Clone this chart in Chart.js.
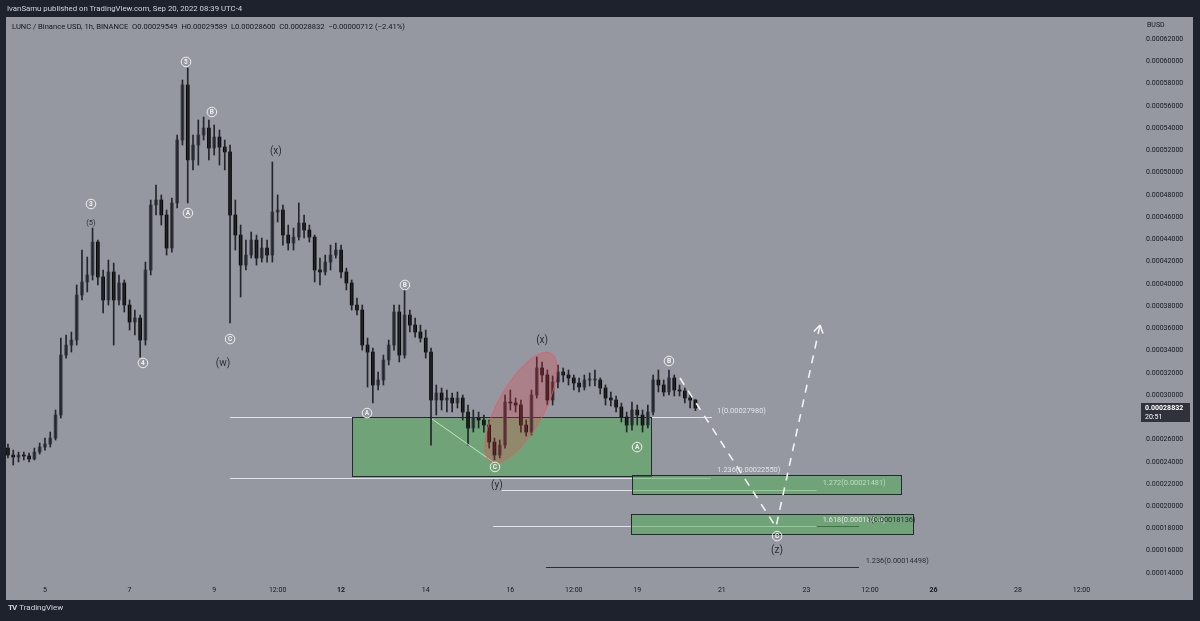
<!DOCTYPE html>
<html>
<head>
<meta charset="utf-8">
<title>LUNC / BUSD 1h</title>
<script src="https://cdn.jsdelivr.net/npm/chart.js@4.4.1/dist/chart.umd.min.js"></script>
<style>
  body { margin: 0; background: #1e222d; }
  #wrap { position: relative; width: 1200px; height: 621px; overflow: hidden; font-family: Roboto, "Liberation Sans", sans-serif; }
  #chart { position: absolute; left: 0; top: 0; }
  .txt { position: absolute; white-space: pre; line-height: 1; }
  #author { left: 7px; top: 5px; font-size: 7.8px; color: #d1d4dc; }
  #legend { left: 12px; top: 23px; font-size: 7.6px; color: #131722; }
  #unit { left: 1147px; top: 22px; font-size: 7px; color: #131722; }
  #brand { left: 8px; top: 604px; font-size: 8px; color: #d1d4dc; }
  #brand b { letter-spacing: -1px; margin-right: 3px; }
</style>
</head>
<body>
<div id="wrap">
  <canvas id="chart" width="1200" height="621"></canvas>
  <div class="txt" id="author">IvanSamu published on TradingView.com, Sep 20, 2022 08:39 UTC-4</div>
  <div class="txt" id="legend"></div>
  <div class="txt" id="unit">BUSD</div>
  <div class="txt" id="brand"><b>TV</b>TradingView</div>
</div>
<script>
// prices are in units of 0.00001 BUSD, time in hours from Sep 5 00:00
const FIRST_HOUR = -21;
const BAR_HOURS = 3;

const opens = [
  25.23, 24.60, 24.43, 24.60, 24.52, 24.25, 24.87, 25.32, 25.59, 26.13,
  28.20, 33.59, 34.49, 34.94, 38.99, 40.16, 40.79, 43.75, 40.61, 38.54,
  41.06, 38.54, 40.07, 38.09, 36.56, 36.92, 34.94, 41.24, 47.08, 47.53,
  46.18, 43.21, 47.26, 52.92, 57.87, 51.13, 52.47, 53.37, 54.00, 52.20,
  53.19, 52.29, 51.85, 46.18, 44.38, 41.68, 42.58, 43.93, 42.31, 43.21,
  42.58, 46.45, 46.63, 44.38, 43.66, 44.20, 45.46, 44.83, 44.20, 41.24,
  41.06, 41.95, 42.58, 43.03, 41.06, 40.07, 38.09, 37.64, 34.49, 33.86,
  30.90, 31.35, 33.15, 34.49, 37.46, 33.59, 37.19, 36.29, 35.66, 35.12,
  33.86, 29.55, 30.18, 29.55, 29.73, 29.28, 29.73, 28.47, 27.03, 27.93,
  27.75, 27.30, 25.77, 24.60, 25.50, 29.37, 29.28, 29.10, 27.30, 26.67,
  30.00, 32.43, 31.80, 29.55, 31.17, 32.07, 31.80, 31.53, 31.08, 30.72,
  31.35, 31.35, 31.35, 30.63, 29.73, 29.55, 28.92, 28.02, 27.30, 28.65,
  28.20, 27.30, 28.47, 31.35, 30.90, 30.27, 31.53, 30.45, 30.36, 29.73,
  29.549
];
const highs = [
  25.59, 25.05, 24.87, 24.87, 24.78, 25.23, 25.68, 26.13, 26.67, 28.65,
  35.12, 35.39, 35.66, 39.89, 43.03, 42.40, 45.01, 43.93, 41.24, 42.13,
  41.86, 40.79, 40.34, 38.54, 37.64, 37.19, 41.95, 47.53, 48.88, 47.98,
  46.63, 47.71, 53.37, 58.32, 59.40, 53.37, 54.72, 54.99, 54.72, 54.27,
  53.82, 52.92, 52.47, 47.53, 45.28, 43.93, 44.65, 44.38, 44.11, 43.93,
  50.95, 47.98, 47.08, 45.28, 45.01, 47.26, 46.18, 45.28, 44.38, 42.31,
  42.58, 43.48, 43.66, 43.48, 41.41, 40.34, 38.72, 38.09, 35.12, 34.22,
  32.07, 33.59, 34.94, 38.09, 38.09, 39.44, 37.64, 36.92, 36.29, 35.84,
  34.22, 30.90, 30.63, 30.45, 30.18, 30.27, 30.00, 29.10, 28.65, 28.47,
  28.20, 27.75, 26.13, 25.95, 30.00, 30.45, 29.73, 29.55, 27.75, 30.45,
  33.41, 32.97, 32.25, 31.71, 32.70, 32.43, 32.25, 31.80, 31.53, 31.80,
  31.98, 32.25, 31.53, 30.90, 30.27, 29.91, 29.28, 28.47, 29.37, 29.10,
  28.65, 29.10, 31.80, 32.25, 31.35, 32.25, 31.80, 30.90, 30.63, 30.00,
  29.589
];
const lows = [
  24.34, 23.71, 23.98, 24.16, 23.98, 24.16, 24.69, 25.05, 25.32, 25.95,
  27.93, 33.32, 33.86, 34.49, 38.54, 39.26, 40.34, 39.89, 37.37, 38.09,
  34.49, 38.09, 37.46, 35.84, 35.39, 33.41, 34.49, 40.79, 46.18, 45.28,
  42.58, 42.85, 46.81, 52.47, 47.26, 50.23, 50.67, 52.92, 51.13, 51.57,
  50.67, 50.23, 36.47, 43.03, 38.81, 41.24, 42.31, 41.68, 41.95, 41.95,
  41.95, 45.55, 43.48, 43.03, 43.03, 43.93, 44.11, 43.75, 40.16, 39.89,
  40.79, 41.24, 42.31, 40.52, 39.44, 37.64, 37.19, 34.04, 30.72, 29.28,
  30.45, 30.90, 32.70, 34.04, 32.97, 33.32, 35.66, 35.21, 34.76, 33.32,
  25.50, 28.20, 28.65, 28.47, 28.47, 28.83, 27.75, 25.50, 26.67, 27.03,
  26.67, 25.23, 24.16, 24.34, 25.23, 28.65, 28.47, 26.67, 26.31, 26.40,
  29.73, 31.17, 29.10, 29.10, 30.63, 31.17, 30.90, 30.45, 30.27, 30.45,
  30.81, 30.81, 30.09, 29.10, 29.01, 28.47, 27.57, 26.67, 26.85, 27.30,
  26.67, 27.03, 28.20, 30.27, 29.91, 30.00, 29.91, 29.91, 29.28, 28.83,
  28.600
];
const closes = [
  24.60, 24.43, 24.60, 24.52, 24.25, 24.87, 25.32, 25.59, 26.13, 28.20,
  33.59, 34.49, 34.94, 38.99, 40.16, 40.79, 43.75, 40.61, 38.54, 41.06,
  38.54, 40.07, 38.09, 36.56, 36.92, 34.94, 41.24, 47.08, 47.53, 46.18,
  43.21, 47.26, 52.92, 57.87, 51.13, 52.47, 53.37, 54.00, 52.20, 53.19,
  52.29, 51.85, 46.18, 44.38, 41.68, 42.58, 43.93, 42.31, 43.21, 42.58,
  46.45, 46.63, 44.38, 43.66, 44.20, 45.46, 44.83, 44.20, 41.24, 41.06,
  41.95, 42.58, 43.03, 41.06, 40.07, 38.09, 37.64, 34.49, 33.86, 30.90,
  31.35, 33.15, 34.49, 37.46, 33.59, 37.19, 36.29, 35.66, 35.12, 33.86,
  29.55, 30.18, 29.55, 29.73, 29.28, 29.73, 28.47, 27.03, 27.93, 27.75,
  27.30, 25.77, 24.60, 25.50, 29.37, 29.28, 29.10, 27.30, 26.67, 30.00,
  32.43, 31.80, 29.55, 31.17, 32.07, 31.80, 31.53, 31.08, 30.72, 31.35,
  31.35, 31.35, 30.63, 29.73, 29.55, 28.92, 28.02, 27.30, 28.65, 28.20,
  27.30, 28.47, 31.35, 30.90, 30.27, 31.53, 30.45, 30.36, 29.73, 29.544,
  28.832
];
const candleHours = closes.map((_, i) => FIRST_HOUR + BAR_HOURS * i);

const xTickHours = [0, 48, 96, 132, 168, 216, 264, 300, 336, 384, 432, 468, 504, 552, 588];
const xTickLabels = ['5', '7', '9', '12:00', '12', '14', '16', '12:00', '19', '21', '23', '12:00', '26', '28', '12:00'];
const boldTickLabels = ['12', '26'];
const yTicks = [14, 16, 18, 20, 22, 24, 26, 28, 30, 32, 34, 36, 38, 40, 42, 44, 46, 48, 50, 52, 54, 56, 58, 60, 62];

// Elliott wave marks: [text, hour, price]
const circledLabels = [
  ['3', 26.1, 47.17], ['4', 55.6, 32.88], ['5', 80.0, 59.94], ['A', 81.1, 46.36],
  ['B', 94.7, 55.44], ['C', 105.0, 35.03], ['A', 182.7, 28.38], ['B', 204.2, 39.89],
  ['C', 255.3, 23.53], ['A', 335.9, 25.32], ['B', 354.0, 33.06], ['C', 415.3, 17.32]
];
const minorLabels = [['(5)', 26.1, 45.46]];
const waveLabels = [
  ['(w)', 101.0, 32.79], ['(x)', 131.0, 51.85],
  ['(y)', 256.4, 21.91], ['(x)', 282.0, 34.94], ['(z)', 415.3, 16.06]
];
// fib levels: [price, fromHour, toHour, tone]
const levelLines = [
  [27.98, 105.0, 378.4, 'light'],
  [22.55, 105.0, 377.8, 'light'],
  [21.481, 259.1, 437.8, 'light'],
  [18.214, 284.2, 461.8, 'dark'],
  [18.214, 254.2, 437.8, 'light'],
  [14.498, 284.2, 461.8, 'dark']
];
const levelTexts = [
  ['1(0.00027980)', 381.4, 28.52, 'light'],
  ['1.236(0.00022550)', 381.4, 23.28, 'light'],
  ['1.272(0.00021481)', 441.2, 22.06, 'green'],
  ['1.618(0.00018214)', 441.2, 18.73, 'light'],
  ['1(0.00018136)', 466.3, 18.73, 'dark'],
  ['1.236(0.00014498)', 465.6, 15.07, 'dark']
];
// target zones: [fromHour, toHour, topPrice, bottomPrice]
const zones = [
  [174.2, 343.8, 27.98, 22.72],
  [333.0, 485.6, 22.81, 21.10],
  [332.4, 492.4, 19.30, 17.50]
];
const projection = [[360.2, 31.53], [414.7, 18.13], [439.7, 36.29]];
const diagonal = [[219.6, 27.84], [254.2, 23.98]];
const ellipseAxis = [[252.96, 24.00], [287.1, 33.75]];

const tones = { light: '#e2e3e6', dark: '#2a2e39', green: '#bddfbf' };
const fmt = v => (v / 1e5).toFixed(8);

// legend line from the last two candles
const n = closes.length;
const diff = closes[n - 1] - closes[n - 2];
const sign = diff < 0 ? '\u2212' : '+';
document.getElementById('legend').textContent =
  `LUNC / Binance USD, 1h, BINANCE  O${fmt(opens[n - 1])}  H${fmt(highs[n - 1])}  L${fmt(lows[n - 1])}  C${fmt(closes[n - 1])}  ${sign}${fmt(Math.abs(diff))} (${sign}${(Math.abs(diff) / closes[n - 2] * 100).toFixed(2)}%)`;

const toPx = (chart, h, p) => [chart.scales.x.getPixelForValue(h), chart.scales.y.getPixelForValue(p)];

const framePlugin = {
  id: 'frame',
  beforeDraw(chart) {
    const c = chart.ctx;
    c.save();
    c.fillStyle = '#1e222d';
    c.fillRect(0, 0, chart.width, chart.height);
    c.fillStyle = '#9598a1';
    c.fillRect(6, 17, 1187, 583);
    c.restore();
  }
};

const drawingsBelow = {
  id: 'drawingsBelow',
  beforeDatasetsDraw(chart) {
    const c = chart.ctx;
    c.save();
    levelLines.forEach(([p, h1, h2, tone]) => {
      const [x1, yy] = toPx(chart, h1, p);
      const [x2] = toPx(chart, h2, p);
      c.strokeStyle = tones[tone];
      c.lineWidth = 1;
      c.beginPath();
      c.moveTo(x1, Math.round(yy) + 0.5);
      c.lineTo(x2, Math.round(yy) + 0.5);
      c.stroke();
    });
    zones.forEach(([h1, h2, top, bottom]) => {
      const [x1, y1] = toPx(chart, h1, top);
      const [x2, y2] = toPx(chart, h2, bottom);
      c.fillStyle = 'rgba(76,175,80,0.5)';
      c.fillRect(x1, y1, x2 - x1, y2 - y1);
      c.strokeStyle = '#252830';
      c.lineWidth = 1;
      c.strokeRect(Math.round(x1) + 0.5, Math.round(y1) + 0.5, Math.round(x2 - x1), Math.round(y2 - y1));
    });
    c.restore();
  }
};

const drawingsAbove = {
  id: 'drawingsAbove',
  afterDatasetsDraw(chart) {
    const c = chart.ctx;
    c.save();

    // thin leg inside the first zone
    const [d1, d2] = diagonal.map(([h, p]) => toPx(chart, h, p));
    c.strokeStyle = 'rgba(220,240,220,0.8)';
    c.lineWidth = 1;
    c.beginPath(); c.moveTo(d1[0], d1[1]); c.lineTo(d2[0], d2[1]); c.stroke();

    // red ellipse around the (x) leg
    const [e1, e2] = ellipseAxis.map(([h, p]) => toPx(chart, h, p));
    c.beginPath();
    c.ellipse((e1[0] + e2[0]) / 2, (e1[1] + e2[1]) / 2,
      Math.hypot(e2[0] - e1[0], e2[1] - e1[1]) / 2, 23,
      Math.atan2(e2[1] - e1[1], e2[0] - e1[0]), 0, Math.PI * 2);
    c.fillStyle = 'rgba(242,54,69,0.25)';
    c.fill();
    c.strokeStyle = 'rgba(235,85,95,0.8)';
    c.stroke();

    // projected path
    const pts = projection.map(([h, p]) => toPx(chart, h, p));
    c.strokeStyle = '#f2f2f2';
    c.lineWidth = 1.6;
    c.setLineDash([8, 7]);
    c.beginPath();
    pts.forEach(([x, y], i) => (i ? c.lineTo(x, y) : c.moveTo(x, y)));
    c.stroke();
    c.setLineDash([]);
    const [ax, ay] = pts[pts.length - 1];
    const [bx, by] = pts[pts.length - 2];
    const ang = Math.atan2(ay - by, ax - bx);
    c.beginPath();
    [0.55, -0.55].forEach(off => {
      c.moveTo(ax, ay);
      c.lineTo(ax - 9 * Math.cos(ang + off), ay - 9 * Math.sin(ang + off));
    });
    c.stroke();

    // fib level texts
    c.font = '7.4px Roboto';
    c.textAlign = 'left';
    c.textBaseline = 'middle';
    levelTexts.forEach(([t, h, p, tone]) => {
      const [x, y] = toPx(chart, h, p);
      c.fillStyle = tones[tone];
      c.fillText(t, x, y);
    });

    // circled wave marks
    c.textAlign = 'center';
    circledLabels.forEach(([t, h, p]) => {
      const [x, y] = toPx(chart, h, p);
      c.strokeStyle = '#f0f0f0';
      c.lineWidth = 1;
      c.beginPath(); c.arc(x, y, 4.8, 0, Math.PI * 2); c.stroke();
      c.fillStyle = '#f0f0f0';
      c.font = 'bold 6.5px Roboto';
      c.fillText(t, x, y + 0.5);
    });
    c.fillStyle = '#2a2e39';
    c.font = '7.5px Roboto';
    minorLabels.forEach(([t, h, p]) => {
      const [x, y] = toPx(chart, h, p);
      c.fillText(t, x, y);
    });
    c.font = '10px Roboto';
    waveLabels.forEach(([t, h, p]) => {
      const [x, y] = toPx(chart, h, p);
      c.fillText(t, x, y);
    });
    c.restore();
  },
  afterDraw(chart) {
    // last price tag on the price scale
    const c = chart.ctx;
    const y = chart.scales.y.getPixelForValue(closes[n - 1]);
    c.save();
    c.fillStyle = '#2f323b';
    c.fillRect(1141, Math.round(y) - 5, 49, 19);
    c.fillStyle = '#ffffff';
    c.font = 'bold 7px Roboto';
    c.textBaseline = 'middle';
    c.fillText(fmt(closes[n - 1]), 1145, y + 0.5);
    c.font = '7px Roboto';
    c.fillText('20:51', 1145, y + 9.5);
    c.restore();
  }
};

const upColor = '#44474f';
const downColor = '#050505';
const bodyColor = ctx => (closes[ctx.dataIndex] >= opens[ctx.dataIndex] ? upColor : downColor);

new Chart(document.getElementById('chart'), {
  type: 'bar',
  data: {
    datasets: [
      {
        label: 'wicks',
        data: candleHours.map((h, i) => ({ x: h, y: [lows[i], highs[i]] })),
        backgroundColor: '#23252a',
        barThickness: 1,
        grouped: false
      },
      {
        label: 'bodies',
        data: candleHours.map((h, i) => ({ x: h, y: [opens[i], closes[i]] })),
        backgroundColor: bodyColor,
        barThickness: 3,
        minBarLength: 1,
        grouped: false
      }
    ]
  },
  options: {
    responsive: false,
    animation: false,
    events: [],
    layout: { padding: { left: 6, top: 17, right: 7, bottom: 21 } },
    plugins: { legend: { display: false }, tooltip: { enabled: false } },
    scales: {
      x: {
        type: 'linear',
        min: -22.1,
        max: 621.2,
        offset: false,
        afterFit: s => { s.height = 22; },
        afterBuildTicks: s => { s.ticks = xTickHours.map(v => ({ value: v })); },
        grid: { display: false, drawTicks: false },
        border: { display: false },
        ticks: {
          autoSkip: false,
          maxRotation: 0,
          padding: 8,
          color: '#131722',
          font: ctx => ({
            size: 7,
            family: 'Roboto',
            weight: ctx.tick && boldTickLabels.includes(xTickLabels[xTickHours.indexOf(ctx.tick.value)]) ? 'bold' : 'normal'
          }),
          callback: v => xTickLabels[xTickHours.indexOf(v)]
        }
      },
      y: {
        position: 'right',
        min: 13.55,
        max: 63.98,
        afterFit: s => { s.width = 53; },
        afterBuildTicks: s => { s.ticks = yTicks.map(v => ({ value: v })); },
        grid: { display: false, drawTicks: false },
        border: { display: false },
        ticks: {
          padding: 6,
          color: '#131722',
          font: { size: 7, family: 'Roboto' },
          callback: v => fmt(v)
        }
      }
    }
  },
  plugins: [framePlugin, drawingsBelow, drawingsAbove]
});
</script>
</body>
</html>
